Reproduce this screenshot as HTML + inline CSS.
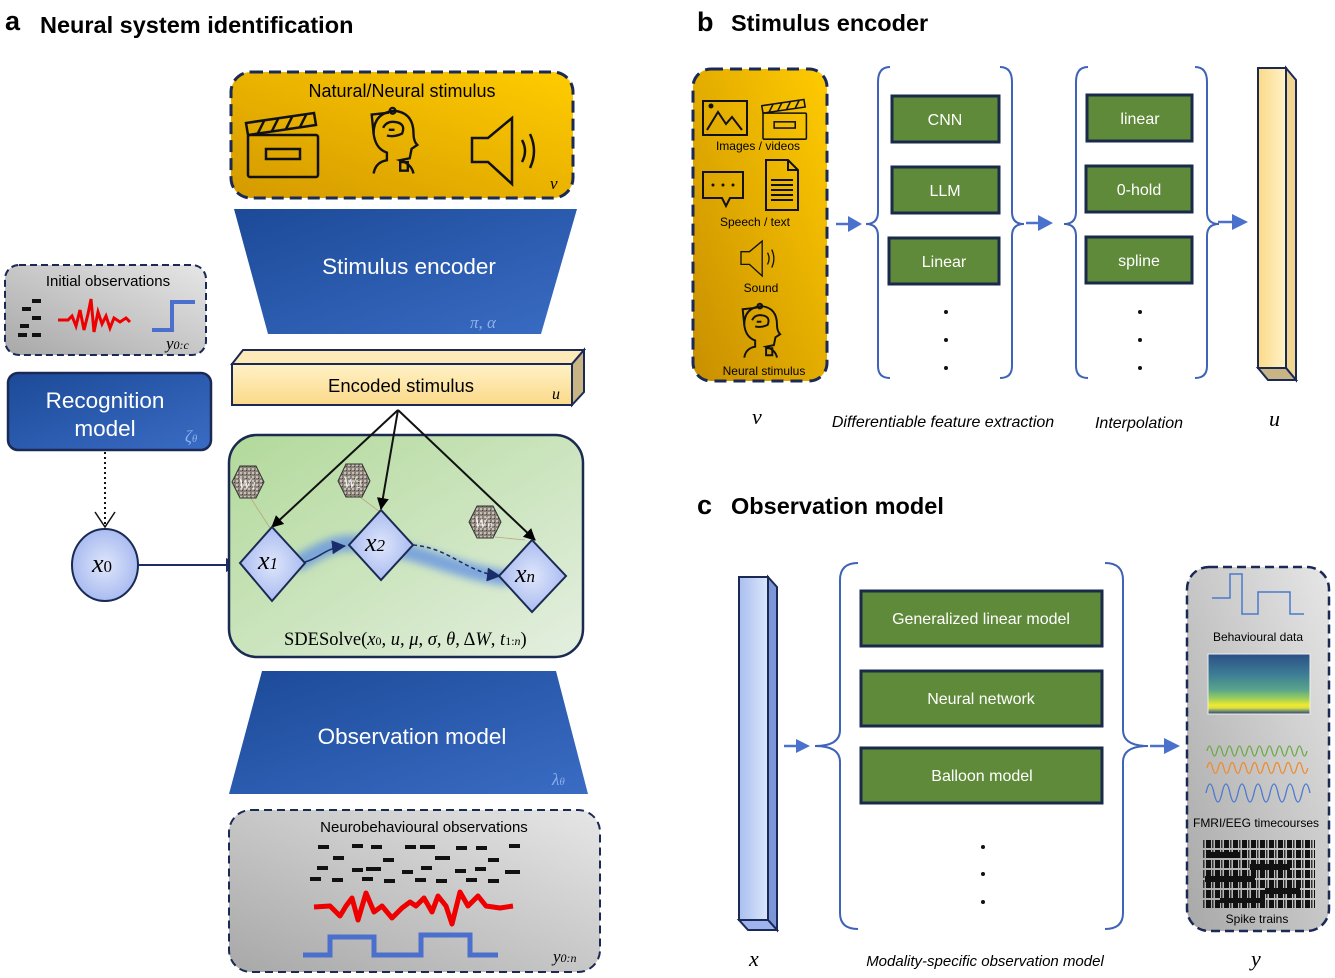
<!DOCTYPE html>
<html><head><meta charset="utf-8"><style>
html,body{margin:0;padding:0;background:#fff;}
svg{display:block;font-family:"Liberation Sans",sans-serif;}
.serif{font-family:"Liberation Serif",serif;font-style:italic;}
</style></head><body>
<svg width="1335" height="978" viewBox="0 0 1335 978" xmlns="http://www.w3.org/2000/svg">
<defs>
<linearGradient id="gold" x1="1" y1="0" x2="0" y2="1"><stop offset="0" stop-color="#ffcc00"/><stop offset="1" stop-color="#d49a00"/></linearGradient>
<linearGradient id="gold2" x1="1" y1="0" x2="0" y2="1"><stop offset="0" stop-color="#ffcb00"/><stop offset="1" stop-color="#c88f00"/></linearGradient>
<linearGradient id="blue" x1="0" y1="0" x2="1" y2="1"><stop offset="0" stop-color="#1c4a98"/><stop offset="1" stop-color="#3a6cc4"/></linearGradient>
<linearGradient id="gray" x1="1" y1="0" x2="0" y2="1"><stop offset="0" stop-color="#e6e6e6"/><stop offset="1" stop-color="#a8a8a8"/></linearGradient>
<linearGradient id="green" x1="0" y1="0" x2="1" y2="1"><stop offset="0" stop-color="#b2d99a"/><stop offset="1" stop-color="#e4efe0"/></linearGradient>
<linearGradient id="cream" x1="0" y1="0" x2="0" y2="1"><stop offset="0" stop-color="#fff2c8"/><stop offset="1" stop-color="#fbd987"/></linearGradient>
<linearGradient id="creamv" x1="0" y1="0" x2="1" y2="0"><stop offset="0" stop-color="#fbd987"/><stop offset="1" stop-color="#fff2c8"/></linearGradient>
<linearGradient id="lblue" x1="0" y1="0" x2="1" y2="0"><stop offset="0" stop-color="#a9bff0"/><stop offset="1" stop-color="#dce6fb"/></linearGradient>
<radialGradient id="node" cx="0.5" cy="0.5" r="0.6"><stop offset="0" stop-color="#dfe6fb"/><stop offset="1" stop-color="#9fb3ee"/></radialGradient>
<linearGradient id="spec" x1="0" y1="0" x2="0" y2="1"><stop offset="0" stop-color="#2b4f86"/><stop offset="0.35" stop-color="#3e7e95"/><stop offset="0.6" stop-color="#5aa58a"/><stop offset="0.75" stop-color="#9fd05a"/><stop offset="0.85" stop-color="#f2e82a"/><stop offset="0.9" stop-color="#d8e04a"/><stop offset="1" stop-color="#1f3f7a"/></linearGradient>
<pattern id="spk" width="9" height="10" patternUnits="userSpaceOnUse"><rect x="0" y="0" width="5" height="8" fill="#111"/><rect x="6" y="0" width="1.5" height="8" fill="#333"/></pattern>
<pattern id="noise" width="4" height="4" patternUnits="userSpaceOnUse"><rect width="4" height="4" fill="#8a8178"/><rect width="2" height="2" fill="#c8c0b6"/><rect x="2" y="2" width="1" height="1" fill="#444"/></pattern>
<filter id="blur" x="-20%" y="-50%" width="140%" height="200%"><feGaussianBlur stdDeviation="4"/></filter>
<marker id="ah" markerWidth="12" markerHeight="12" refX="11" refY="6" orient="auto" markerUnits="userSpaceOnUse"><path d="M0,0 L12,6 L0,12 z" fill="#000"/></marker>
<marker id="ahn" markerWidth="14" markerHeight="14" refX="13" refY="7" orient="auto" markerUnits="userSpaceOnUse"><path d="M0,0 L14,7 L0,14 z" fill="#1a2d6a"/></marker>
<g id="clap" fill="none" stroke="#111" stroke-width="2.5"><rect x="0" y="18" width="70" height="42" rx="2"/><rect x="18" y="32" width="34" height="10"/><path d="M0,18 L-2,6 L66,-4 L68,8 z"/><path d="M10,16 L16,4 M24,14 L30,2 M38,12 L44,0 M52,10 L58,-2"/></g>
<g id="spk2" fill="none" stroke="#111" stroke-width="2.5"><path d="M0,22 L16,22 L40,2 L40,68 L16,46 L0,46 z"/><path d="M50,24 Q56,35 50,46 M58,18 Q66,35 58,52"/></g>
<g id="head" fill="none" stroke="#111" stroke-width="2.5"><path d="M8,70 Q10,58 22,56 L22,48 Q10,44 8,28 Q8,6 30,4 Q50,6 50,28 Q50,36 54,40 L48,44 L46,54 L36,56 Q48,60 50,70"/><path d="M8,28 L6,8 L24,6"/><circle cx="28" cy="4" r="3"/><path d="M18,22 Q22,14 32,16 Q42,18 38,28 Q30,32 22,30 M24,24 L30,24"/><rect x="36" y="58" width="8" height="9"/></g>
</defs>

<text x="5" y="30" font-size="27" font-weight="bold">a</text>
<text x="40" y="33" font-size="23.5" font-weight="bold">Neural system identification</text>

<rect x="231" y="72" width="342" height="126" rx="20" fill="url(#gold)" stroke="#1a2a55" stroke-width="3" stroke-dasharray="12,6"/>
<text x="402" y="97" font-size="18" text-anchor="middle">Natural/Neural stimulus</text>
<use href="#clap" transform="translate(248,117) scale(1)"/>
<use href="#head" transform="translate(366,107) scale(0.95)"/>
<use href="#spk2" transform="translate(472,116) scale(1)"/>
<text x="550" y="189" class="serif" font-size="17">v</text>

<polygon points="234,209 577,209 541,334 268,334" fill="url(#blue)"/>
<text x="409" y="274" font-size="22.5" fill="#fff" text-anchor="middle">Stimulus encoder</text>
<text x="470" y="328" class="serif" font-size="17" fill="#8fb0ea">π, α</text>

<polygon points="232,364 243,350 584,350 572,364" fill="#fdeab8" stroke="#1a2a55" stroke-width="2"/>
<polygon points="572,364 584,350 584,392 572,405" fill="#c9b486" stroke="#1a2a55" stroke-width="2"/>
<rect x="232" y="364" width="340" height="41" fill="url(#cream)" stroke="#1a2a55" stroke-width="2"/>
<text x="401" y="392" font-size="18.5" text-anchor="middle">Encoded stimulus</text>
<text x="552" y="399" class="serif" font-size="16">u</text>

<rect x="5" y="265" width="201" height="90" rx="14" fill="url(#gray)" stroke="#1a2a55" stroke-width="2" stroke-dasharray="7,4"/>
<text x="108" y="286" font-size="15" text-anchor="middle">Initial observations</text>
<g fill="#111"><rect x="32" y="299" width="9" height="4"/><rect x="22" y="307" width="9" height="4"/><rect x="32" y="316" width="9" height="4"/><rect x="20" y="324" width="9" height="4"/><rect x="18" y="333" width="9" height="4"/><rect x="32" y="333" width="9" height="4"/></g>
<path d="M58,320 L68,320 L72,316 L76,326 L80,310 L84,330 L88,314 L91,299 L94,332 L98,312 L102,324 L106,316 L110,328 L114,318 L120,322 L126,318 L130,322" fill="none" stroke="#e00" stroke-width="3"/>
<path d="M152,330 L172,330 L172,302 L195,302" fill="none" stroke="#4a6fcc" stroke-width="4"/>
<text x="166" y="349" class="serif" font-size="17">y<tspan font-size="12">0:c</tspan></text>

<rect x="8" y="373" width="203" height="77" rx="10" fill="url(#blue)" stroke="#1a2a55" stroke-width="2.5"/>
<text x="105" y="408" font-size="22.5" fill="#fff" text-anchor="middle">Recognition</text>
<text x="105" y="436" font-size="22.5" fill="#fff" text-anchor="middle">model</text>
<text x="185" y="442" class="serif" font-size="17" fill="#8fb0ea">ζ<tspan font-size="11">θ</tspan></text>
<line x1="105" y1="452" x2="105" y2="526" stroke="#111" stroke-width="2" stroke-dasharray="2,3"/>
<path d="M95,512 L105,527 L115,512" fill="none" stroke="#111" stroke-width="1.5"/>

<ellipse cx="105" cy="565" rx="33" ry="36" fill="url(#node)" stroke="#1a2a55" stroke-width="2"/>
<text x="92" y="572" class="serif" font-size="26">x<tspan font-size="17" font-style="normal">0</tspan></text>
<line x1="138" y1="565" x2="239" y2="565" stroke="#1a2d6a" stroke-width="2" marker-end="url(#ahn)"/>

<rect x="229" y="435" width="354" height="222" rx="28" fill="url(#green)" stroke="#1a2a50" stroke-width="2.5"/>
<path d="M300,562 C330,545 340,540 370,545 C420,550 450,570 505,578" fill="none" stroke="#5a8ae6" stroke-width="16" opacity="0.7" stroke-linecap="round" filter="url(#blur)"/>
<path d="M305,562 C320,558 325,548 345,546" fill="none" stroke="#1a2d6a" stroke-width="1.5" marker-end="url(#ahn)"/>
<path d="M413,545 C450,548 465,572 500,576" fill="none" stroke="#1a2d6a" stroke-width="1.5" stroke-dasharray="4,3" marker-end="url(#ahn)"/>
<g stroke="#b9a680" stroke-width="0.8"><line x1="250" y1="497" x2="270" y2="528"/><line x1="360" y1="497" x2="380" y2="512"/><line x1="495" y1="537" x2="525" y2="540"/></g>
<g stroke="#111" stroke-width="2">
<line x1="398" y1="410" x2="272" y2="527" marker-end="url(#ah)"/>
<line x1="398" y1="410" x2="381" y2="509" marker-end="url(#ah)"/>
<line x1="398" y1="410" x2="535" y2="540" marker-end="url(#ah)"/>
</g>
<g fill="url(#noise)" stroke="#333" stroke-width="1">
<polygon points="240,466 256,466 264,482 256,498 240,498 232,482"/>
<polygon points="346,464 362,464 370,481 362,497 346,497 338,481"/>
<polygon points="477,506 493,506 501,522 493,538 477,538 469,522"/>
</g>
<g fill="#fff" class="serif" font-size="16" opacity="0.85"><text x="238" y="489">W<tspan font-size="10">1</tspan></text><text x="343" y="488">W<tspan font-size="10">2</tspan></text><text x="474" y="528">W<tspan font-size="10">n</tspan></text></g>
<g fill="url(#node)" stroke="#1a2a55" stroke-width="2">
<polygon points="272,527 305,563 272,601 240,563"/>
<polygon points="381,510 413,545 381,580 349,545"/>
<polygon points="532,540 566,576 532,612 499,576"/>
</g>
<g class="serif" font-size="26"><text x="258" y="569">x<tspan font-size="17">1</tspan></text><text x="365" y="551">x<tspan font-size="17">2</tspan></text><text x="515" y="582">x<tspan font-size="17">n</tspan></text></g>
<text x="284" y="645" font-family="Liberation Serif,serif" font-size="18.5">SDESolve(<tspan font-style="italic">x</tspan><tspan font-size="12">0</tspan>, <tspan font-style="italic">u</tspan>, <tspan font-style="italic">μ</tspan>, <tspan font-style="italic">σ</tspan>, <tspan font-style="italic">θ</tspan>, Δ<tspan font-style="italic">W</tspan>, <tspan font-style="italic">t</tspan><tspan font-size="12">1:<tspan font-style="italic">n</tspan></tspan>)</text>

<polygon points="262,671 556,671 588,794 229,794" fill="url(#blue)"/>
<text x="412" y="744" font-size="22.5" fill="#fff" text-anchor="middle">Observation model</text>
<text x="552" y="785" class="serif" font-size="17" fill="#8fb0ea">λ<tspan font-size="11">θ</tspan></text>

<rect x="229" y="810" width="371" height="162" rx="22" fill="url(#gray)" stroke="#1a2a55" stroke-width="2" stroke-dasharray="8,5"/>
<text x="424" y="832" font-size="15" text-anchor="middle">Neurobehavioural observations</text>
<g fill="#111">
<rect x="318" y="845" width="11" height="4"/><rect x="352" y="844" width="11" height="4"/><rect x="371" y="845" width="11" height="4"/><rect x="405" y="845" width="11" height="4"/><rect x="420" y="845" width="15" height="4"/><rect x="456" y="846" width="11" height="4"/><rect x="476" y="846" width="11" height="4"/><rect x="509" y="844" width="11" height="4"/>
<rect x="333" y="856" width="11" height="4"/><rect x="383" y="858" width="11" height="4"/><rect x="435" y="856" width="15" height="4"/><rect x="488" y="858" width="11" height="4"/>
<rect x="317" y="866" width="11" height="4"/><rect x="352" y="868" width="11" height="4"/><rect x="366" y="867" width="15" height="4"/><rect x="402" y="870" width="11" height="4"/><rect x="421" y="866" width="11" height="4"/><rect x="455" y="869" width="11" height="4"/><rect x="475" y="867" width="11" height="4"/><rect x="505" y="870" width="15" height="4"/>
<rect x="310" y="877" width="11" height="4"/><rect x="332" y="878" width="11" height="4"/><rect x="362" y="877" width="11" height="4"/><rect x="384" y="879" width="11" height="4"/><rect x="415" y="878" width="11" height="4"/><rect x="436" y="879" width="11" height="4"/><rect x="466" y="878" width="11" height="4"/><rect x="488" y="879" width="11" height="4"/>
</g>
<path d="M314,907 L330,906 L340,916 L346,906 L352,898 L358,920 L366,893 L374,912 L382,906 L392,918 L402,908 L410,902 L416,906 L424,898 L432,912 L438,896 L446,906 L452,924 L460,892 L468,906 L478,896 L486,906 L500,908 L513,906" fill="none" stroke="#e00" stroke-width="5" stroke-linejoin="round"/>
<path d="M303,955 L330,955 L330,937 L374,937 L374,955 L421,955 L421,935 L470,935 L470,955 L498,955" fill="none" stroke="#4a6fcc" stroke-width="5"/>
<text x="553" y="962" class="serif" font-size="17">y<tspan font-size="12">0:n</tspan></text>

<text x="697" y="31" font-size="27" font-weight="bold">b</text>
<text x="731" y="31" font-size="23.5" font-weight="bold">Stimulus encoder</text>
<rect x="693" y="69" width="134" height="312" rx="18" fill="url(#gold2)" stroke="#1a2a55" stroke-width="3" stroke-dasharray="12,7"/>
<g fill="none" stroke="#111" stroke-width="2">
<rect x="703" y="101" width="44" height="34"/><path d="M707,130 L718,112 L726,124 L732,117 L742,130"/><circle cx="711" cy="106" r="1.5" fill="#111"/>
<path d="M703,172 L743,172 L743,198 L730,198 L726,206 L722,198 L703,198 z"/>
<path d="M766,160 L788,160 L798,170 L798,210 L766,210 z M788,160 L788,170 L798,170 M771,180 L793,180 M771,185 L793,185 M771,190 L793,190 M771,195 L793,195 M771,200 L793,200"/>
</g>
<g fill="#111"><circle cx="713" cy="185" r="1.5"/><circle cx="723" cy="185" r="1.5"/><circle cx="733" cy="185" r="1.5"/></g>
<use href="#clap" transform="translate(763,102) scale(0.62)"/>
<use href="#spk2" transform="translate(741,240) scale(0.53)"/>
<use href="#head" transform="translate(738,303) scale(0.78)"/>
<g font-size="12" text-anchor="middle"><text x="758" y="150">Images / videos</text><text x="755" y="226">Speech / text</text><text x="761" y="292">Sound</text><text x="764" y="375">Neural stimulus</text></g>
<g fill="none" stroke="#3f63b8" stroke-width="2">
<path d="M890,67 Q878,67 878,82 L878,212 Q878,224 866,224 Q878,224 878,236 L878,366 Q878,378 890,378"/>
<path d="M1000,67 Q1012,67 1012,82 L1012,212 Q1012,224 1024,224 Q1012,224 1012,236 L1012,366 Q1012,378 1000,378"/>
<path d="M1088,67 Q1076,67 1076,82 L1076,212 Q1076,224 1064,224 Q1076,224 1076,236 L1076,366 Q1076,378 1088,378"/>
<path d="M1195,67 Q1207,67 1207,82 L1207,212 Q1207,224 1219,224 Q1207,224 1207,236 L1207,366 Q1207,378 1195,378"/>
</g>
<g fill="#4a72cc" stroke="#4a72cc" stroke-width="2.5">
<line x1="836" y1="224" x2="850" y2="224"/><polygon points="848,216 862,224 848,232" stroke="none"/>
<line x1="1026" y1="223" x2="1040" y2="223"/><polygon points="1038,215 1053,223 1038,231" stroke="none"/>
<line x1="1218" y1="222" x2="1234" y2="222"/><polygon points="1232,214 1248,222 1232,230" stroke="none"/>
</g>
<g fill="#5f8a3a" stroke="#1a2a4a" stroke-width="3">
<rect x="892" y="96" width="107" height="46"/><rect x="892" y="167" width="107" height="46"/><rect x="889" y="238" width="110" height="46"/>
<rect x="1087" y="95" width="105" height="46"/><rect x="1086" y="166" width="106" height="46"/><rect x="1086" y="237" width="106" height="46"/>
</g>
<g fill="#fff" font-size="16" text-anchor="middle">
<text x="945" y="125">CNN</text><text x="945" y="196">LLM</text><text x="944" y="267">Linear</text>
<text x="1140" y="124">linear</text><text x="1139" y="195">0-hold</text><text x="1139" y="266">spline</text>
</g>
<g fill="#111"><circle cx="946" cy="312" r="2"/><circle cx="946" cy="340" r="2"/><circle cx="946" cy="368" r="2"/><circle cx="1140" cy="312" r="2"/><circle cx="1140" cy="340" r="2"/><circle cx="1140" cy="368" r="2"/></g>
<polygon points="1286,68 1296,80 1296,380 1286,368" fill="#f0d690" stroke="#1a2a55" stroke-width="2"/>
<polygon points="1258,368 1286,368 1296,380 1268,380" fill="#c9b486" stroke="#1a2a55" stroke-width="2"/>
<rect x="1258" y="68" width="28" height="300" fill="url(#creamv)" stroke="#1a2a55" stroke-width="2"/>
<text x="752" y="424" class="serif" font-size="22">v</text>
<text x="943" y="427" font-size="16" font-style="italic" text-anchor="middle">Differentiable feature extraction</text>
<text x="1139" y="428" font-size="16" font-style="italic" text-anchor="middle">Interpolation</text>
<text x="1269" y="426" class="serif" font-size="22">u</text>

<text x="697" y="514" font-size="27" font-weight="bold">c</text>
<text x="731" y="514" font-size="23.5" font-weight="bold">Observation model</text>
<polygon points="768,577 777,587 777,930 768,920" fill="#7d96d8" stroke="#1a2a55" stroke-width="2"/>
<polygon points="739,920 768,920 777,930 748,930" fill="#9fb3ee" stroke="#1a2a55" stroke-width="2"/>
<rect x="739" y="577" width="29" height="343" fill="url(#lblue)" stroke="#1a2a55" stroke-width="2"/>
<g fill="none" stroke="#3f63b8" stroke-width="2">
<path d="M858,563 Q840,563 840,580 L840,730 Q840,746 815,746 Q840,746 840,762 L840,913 Q840,929 858,929"/>
<path d="M1105,563 Q1123,563 1123,580 L1123,730 Q1123,746 1148,746 Q1123,746 1123,762 L1123,913 Q1123,929 1105,929"/>
</g>
<g fill="#4a72cc" stroke="#4a72cc" stroke-width="2.5">
<line x1="784" y1="746" x2="798" y2="746"/><polygon points="796,739 810,746 796,753" stroke="none"/>
<line x1="1150" y1="746" x2="1166" y2="746"/><polygon points="1164,738 1180,746 1164,754" stroke="none"/>
</g>
<g fill="#5f8a3a" stroke="#1a2a4a" stroke-width="3">
<rect x="861" y="591" width="241" height="55"/><rect x="861" y="671" width="241" height="55"/><rect x="861" y="748" width="241" height="55"/>
</g>
<g fill="#fff" font-size="16" text-anchor="middle">
<text x="981" y="624">Generalized linear model</text><text x="981" y="704">Neural network</text><text x="982" y="781">Balloon model</text>
</g>
<g fill="#111"><circle cx="983" cy="847" r="2"/><circle cx="983" cy="874" r="2"/><circle cx="983" cy="902" r="2"/></g>
<rect x="1187" y="567" width="142" height="364" rx="22" fill="url(#gray)" stroke="#1a2a55" stroke-width="2.5" stroke-dasharray="9,5"/>
<path d="M1212,598 L1230,598 L1230,574 L1242,574 L1242,614 L1258,614 L1258,592 L1290,592 L1290,614 L1304,614" fill="none" stroke="#4a7acc" stroke-width="1.5"/>
<text x="1258" y="641" font-size="12" text-anchor="middle">Behavioural data</text>
<rect x="1208" y="654" width="102" height="60" fill="url(#spec)" stroke="#eee" stroke-width="1"/>
<path d="M1207,751 q2.5,-10 5,0 t5,0 t5,0 t5,0 t5,0 t5,0 t5,0 t5,0 t5,0 t5,0 t5,0 t5,0 t5,0 t5,0 t5,0 t5,0 t5,0 t5,0 t5,0 t5,0" fill="none" stroke="#6aaa44" stroke-width="1.3"/>
<path d="M1207,768 q2.8,-11 5.6,0 t5.6,0 t5.6,0 t5.6,0 t5.6,0 t5.6,0 t5.6,0 t5.6,0 t5.6,0 t5.6,0 t5.6,0 t5.6,0 t5.6,0 t5.6,0 t5.6,0 t5.6,0 t5.6,0 t5.6,0" fill="none" stroke="#f08a2a" stroke-width="1.3"/>
<path d="M1206,793 q4,-18 8,0 t8,0 t8,0 t8,0 t8,0 t8,0 t8,0 t8,0 t8,0 t8,0 t8,0 t8,0 t8,0" fill="none" stroke="#4a7acc" stroke-width="1.3"/>
<text x="1256" y="827" font-size="12" text-anchor="middle">FMRI/EEG timecourses</text>
<rect x="1203" y="840" width="112" height="70" fill="url(#spk)"/>
<g fill="#111"><rect x="1210" y="852" width="30" height="6"/><rect x="1250" y="864" width="40" height="6"/><rect x="1205" y="876" width="50" height="6"/><rect x="1265" y="888" width="35" height="6"/><rect x="1220" y="898" width="45" height="5"/></g>
<text x="1257" y="923" font-size="12" text-anchor="middle">Spike trains</text>
<text x="749" y="966" class="serif" font-size="22">x</text>
<text x="985" y="966" font-size="15" font-style="italic" text-anchor="middle">Modality-specific observation model</text>
<text x="1251" y="966" class="serif" font-size="22">y</text>
</svg>
</body></html>
